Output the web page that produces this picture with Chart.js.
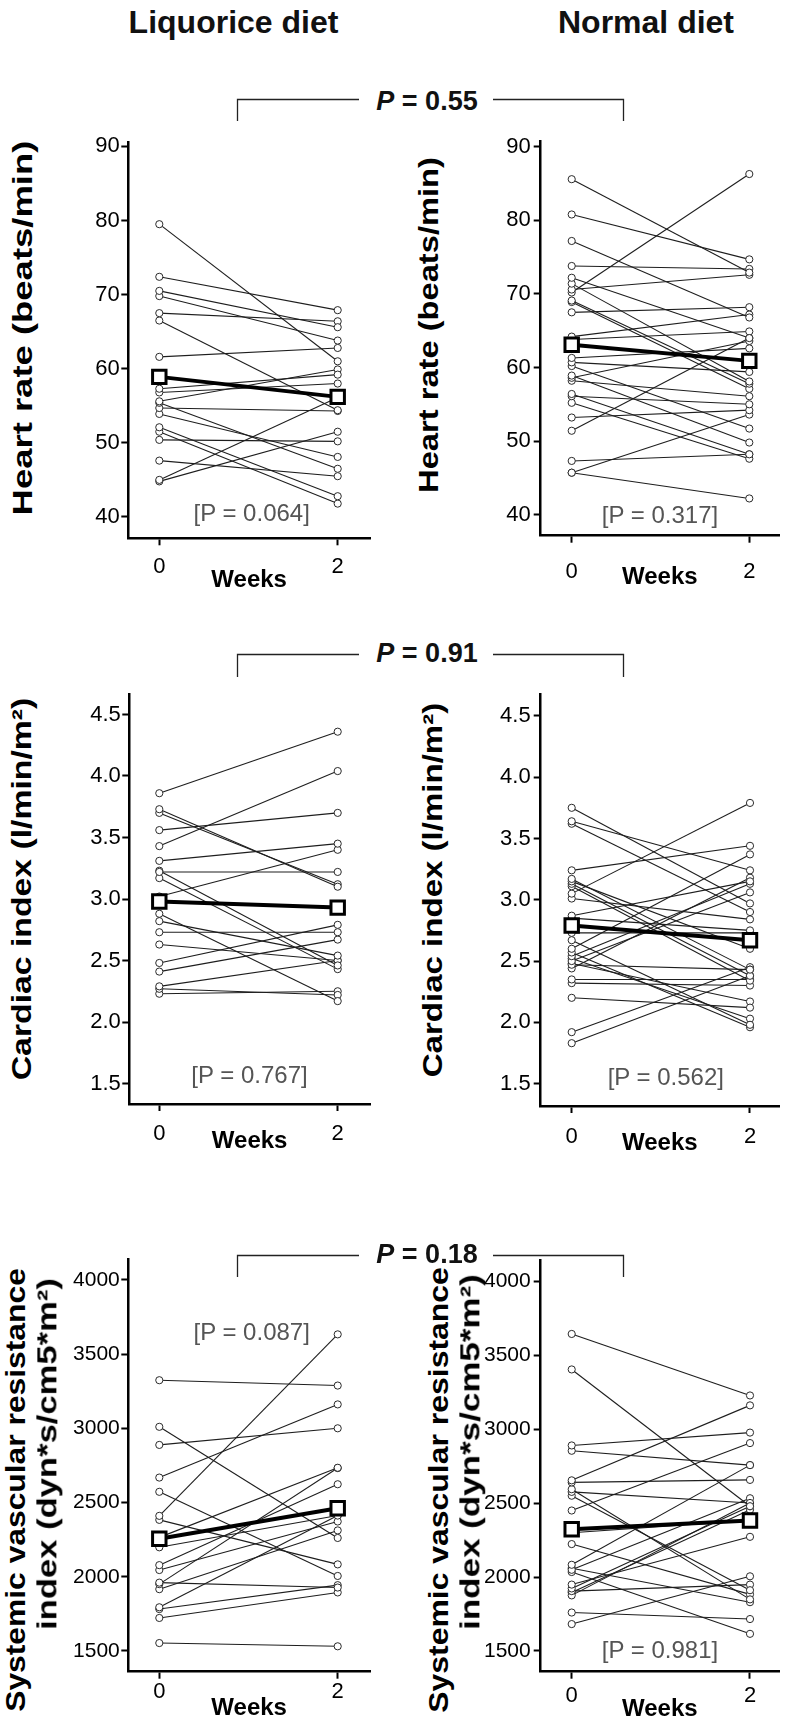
<!DOCTYPE html>
<html><head><meta charset="utf-8">
<script src="https://cdn.jsdelivr.net/npm/chart.js@4.4.1/dist/chart.umd.min.js"></script>
<style>
html,body{margin:0;padding:0;background:#fff;}
#fig{position:relative;width:790px;height:1732px;overflow:hidden;font-family:"Liberation Sans",Arial,sans-serif;}
#fig canvas{position:absolute;}
.t{position:absolute;white-space:nowrap;line-height:1;}
.head{font-weight:bold;font-size:32px;color:#111;transform:translateX(-50%);}
.ytitle{font-weight:bold;font-size:28px;color:#000;}
.pv{font-size:24px;color:#555;transform:translate(-50%,-50%);}
.pb{font-weight:bold;font-size:27px;color:#111;transform:translate(-50%,-50%);}
svg{position:absolute;left:0;top:0;}
</style></head>
<body><div id="fig"></div>
<script>
// ---------- DATA ----------
const weekValues = [0, 2];
const weekLabels = ['0', '2'];

const hrTicks = [40, 50, 60, 70, 80, 90];
const ciTicks = [1.5, 2.0, 2.5, 3.0, 3.5, 4.0, 4.5];
const svriTicks = [1500, 2000, 2500, 3000, 3500, 4000];

// Heart rate, liquorice diet
const hrLiqWeek0 = [79.5, 72.4, 70.5, 69.8, 67.5, 66.5, 61.6, 57.3, 56.8, 55.6, 55.4, 54.7, 53.9, 52.1, 51.5, 50.4, 47.6, 45.0, 44.8];
const hrLiqWeek2 = [61.0, 67.9, 65.6, 63.8, 66.4, 54.4, 62.8, 59.2, 58.0, 59.9, 46.5, 54.3, 48.1, 42.8, 41.8, 50.2, 45.5, 56.1, 51.5];
const hrLiqMean = [58.9, 56.2];

// Heart rate, normal diet
const hrNormWeek0 = [85.6, 80.8, 77.2, 73.8, 72.2, 71.4, 70.6, 70.2, 69.1, 68.9, 67.5, 64.2, 63.8, 61.3, 60.7, 60.2, 58.9, 58.6, 58.2, 56.4, 56.1, 55.2, 53.2, 51.4, 47.3, 45.7, 45.7];
const hrNormWeek2 = [72.9, 74.7, 66.8, 73.4, 64.0, 58.1, 72.6, 86.3, 57.8, 57.1, 68.2, 67.2, 64.9, 62.6, 59.4, 51.7, 49.8, 63.6, 56.1, 48.2, 55.0, 47.6, 54.2, 64.0, 48.2, 53.6, 42.2];
const hrNormMean = [63.1, 60.9];

// Cardiac index, liquorice diet
const ciLiqWeek0 = [3.86, 3.73, 3.70, 3.56, 3.43, 3.31, 3.22, 3.23, 3.17, 3.02, 2.88, 2.82, 2.73, 2.63, 2.48, 2.41, 2.29, 2.27, 2.23];
const ciLiqWeek2 = [4.36, 3.10, 3.12, 3.70, 4.04, 3.45, 3.22, 2.46, 2.43, 3.40, 2.17, 2.54, 2.73, 2.50, 2.79, 2.67, 2.50, 2.22, 2.25];
const ciLiqMean = [2.98, 2.93];

// Cardiac index, normal diet
const ciNormWeek0 = [3.75, 3.64, 3.62, 3.24, 3.17, 3.15, 3.13, 3.11, 3.05, 3.01, 2.87, 2.85, 2.73, 2.67, 2.60, 2.57, 2.54, 2.50, 2.47, 2.44, 2.35, 2.32, 2.20, 1.92, 1.83, 2.48, 2.52];
const ciNormWeek2 = [2.97, 3.24, 2.90, 3.44, 2.43, 2.60, 2.38, 2.34, 3.79, 2.84, 3.15, 2.75, 2.73, 1.98, 3.37, 1.96, 3.13, 3.06, 2.43, 3.18, 2.35, 2.30, 2.12, 2.45, 2.38, 2.17, 2.03];
const ciNormMean = [2.79, 2.67];

// Systemic vascular resistance index, liquorice diet
const svriLiqWeek0 = [3324, 3010, 2888, 2668, 2572, 2410, 2383, 2265, 2198, 2078, 2045, 1960, 1950, 1916, 1794, 1782, 1722, 1553];
const svriLiqWeek2 = [3288, 2261, 3000, 3161, 2005, 3633, 2083, 2734, 2412, 2623, 2372, 1927, 2732, 2312, 2412, 1943, 1894, 1531];
const svriLiqMean = [2256, 2461];

// Systemic vascular resistance index, normal diet
const svriNormWeek0 = [3644, 3404, 2890, 2854, 2654, 2640, 2594, 2576, 2550, 2450, 2300, 2223, 2083, 2049, 2034, 1949, 1923, 1905, 1876, 1760, 1682, 1895, 2060];
const svriNormWeek2 = [3228, 2479, 2977, 2757, 3161, 2657, 1849, 2501, 1911, 2906, 2383, 1883, 2757, 2533, 1616, 2272, 2479, 1949, 2501, 1716, 2005, 2455, 1830];
const svriNormMean = [2323, 2383];

// ---------- LAYOUT ----------
const fig = document.getElementById('fig');
const FONT = '"Liberation Sans", Arial, sans-serif';

function addText(cls, text, left, top, html) {
  const d = document.createElement('div');
  d.className = 't ' + cls;
  if (html) d.innerHTML = text; else d.textContent = text;
  d.style.left = left + 'px';
  d.style.top = top + 'px';
  fig.appendChild(d);
  return d;
}
function addYTitle(text, cx, cy, len) {
  const d = addText('ytitle', text, 0, 0);
  const w = d.offsetWidth, h = d.offsetHeight;
  d.style.left = (cx - w / 2) + 'px';
  d.style.top = (cy - h / 2) + 'px';
  d.style.transform = 'rotate(-90deg) scaleX(' + (len / w) + ')';
}

function makePanel(g, week0, week2, mean, ticks, tickFmt, tickFont) {
  const cl = Math.floor(g.axisLeft - 74), ct = Math.floor(g.top - 10);
  const cr = Math.min(790, Math.ceil(g.axisRight + 8)), cb = Math.ceil(g.weeksY + 20);
  const W = cr - cl, H = cb - ct;
  const cv = document.createElement('canvas');
  cv.width = W; cv.height = H;
  cv.style.left = cl + 'px'; cv.style.top = ct + 'px';
  cv.style.width = W + 'px'; cv.style.height = H + 'px';
  fig.appendChild(cv);

  const xUnit = (g.x2px - g.x0px) / 2;
  const xLo = (g.axisLeft - g.x0px) / xUnit, xHi = (g.axisRight - g.x0px) / xUnit;
  const yUnit = (g.yApx - g.yBpx) / (g.yB - g.yA);
  const yLo = g.yA - (g.bottom - g.yApx) / yUnit, yHi = g.yB + (g.yBpx - g.top) / yUnit;

  const yW = g.axisLeft - cl, padTop = g.top - ct, padRight = cr - g.axisRight, xH = cb - g.bottom;
  const lblPad = Math.max(0, g.labelY - g.bottom - 7 - 22 * 1.2 / 2);
  const weeksPad = Math.max(0, cb - g.weeksY - 24 * 1.2 / 2);

  const datasets = [{
    data: weekValues.map((x, i) => ({x, y: mean[i]})),
    borderColor: '#000', borderWidth: 4,
    pointStyle: 'rect', pointRadius: 9.5, pointHoverRadius: 9.5,
    pointBorderWidth: 3, pointBackgroundColor: '#fff', pointBorderColor: '#000',
    order: 0
  }];
  week0.forEach((v, i) => {
    datasets.push({
      data: [{x: weekValues[0], y: v}, {x: weekValues[1], y: week2[i]}],
      borderColor: '#1e1e1e', borderWidth: 1.1,
      pointRadius: 3.6, pointHoverRadius: 3.6, pointBorderWidth: 1,
      pointBackgroundColor: '#fff', pointBorderColor: '#2a2a2a',
      order: 1
    });
  });

  new Chart(cv, {
    type: 'line',
    data: {datasets},
    options: {
      responsive: false, animation: false, devicePixelRatio: 1,
      events: [],
      layout: {autoPadding: false, padding: {left: 0, top: padTop, right: padRight, bottom: 0}},
      plugins: {legend: {display: false}, tooltip: {enabled: false}},
      scales: {
        x: {
          type: 'linear', min: xLo, max: xHi,
          afterFit: s => { s.height = xH; },
          afterBuildTicks: s => { s.ticks = weekValues.map(v => ({value: v})); },
          ticks: {
            callback: v => weekLabels[weekValues.indexOf(v)],
            font: {family: FONT, size: 22}, color: '#000', padding: lblPad, maxRotation: 0, autoSkip: false
          },
          grid: {display: true, drawOnChartArea: false, drawTicks: true, tickLength: 7, tickWidth: 2, color: '#000'},
          border: {display: true, width: 2.5, color: '#000'},
          title: {display: true, text: 'Weeks', color: '#000',
                  font: {family: FONT, size: 24, weight: 'bold'}, padding: {top: 0, bottom: weeksPad}}
        },
        y: {
          type: 'linear', min: yLo, max: yHi,
          afterFit: s => { s.width = yW; },
          afterBuildTicks: s => { s.ticks = ticks.map(v => ({value: v})); },
          ticks: {
            callback: v => tickFmt(v),
            font: {family: FONT, size: tickFont}, color: '#000', padding: g.yPad, autoSkip: false
          },
          grid: {display: true, drawOnChartArea: false, drawTicks: true, tickLength: 7, tickWidth: 2, color: '#000'},
          border: {display: true, width: 2.5, color: '#000'}
        }
      }
    }
  });
}

const intFmt = v => String(v);
const decFmt = v => v.toFixed(1);

makePanel({axisLeft:128.3, axisRight:370, top:138, bottom:538.3, x0px:159.3, x2px:337.7,
           yA:40, yApx:516.7, yB:90, yBpx:141.7, labelY:566.7, weeksY:580, yPad:1.5},
          hrLiqWeek0, hrLiqWeek2, hrLiqMean, hrTicks, intFmt, 22);
makePanel({axisLeft:540.7, axisRight:779, top:135, bottom:535.7, x0px:571.7, x2px:749.3,
           yA:40, yApx:514.3, yB:90, yBpx:140.7, labelY:571.7, weeksY:577, yPad:3},
          hrNormWeek0, hrNormWeek2, hrNormMean, hrTicks, intFmt, 22);
makePanel({axisLeft:129.3, axisRight:370, top:690, bottom:1104, x0px:159.3, x2px:337.7,
           yA:1.5, yApx:1083.3, yB:4.5, yBpx:710, labelY:1134, weeksY:1141, yPad:1.5},
          ciLiqWeek0, ciLiqWeek2, ciLiqMean, ciTicks, decFmt, 22);
makePanel({axisLeft:540.7, axisRight:779, top:688, bottom:1106, x0px:571.7, x2px:750,
           yA:1.5, yApx:1083.3, yB:4.5, yBpx:710, labelY:1137, weeksY:1143, yPad:3},
          ciNormWeek0, ciNormWeek2, ciNormMean, ciTicks, decFmt, 22);
makePanel({axisLeft:128.3, axisRight:370, top:1255, bottom:1671.7, x0px:159.3, x2px:337.7,
           yA:1500, yApx:1650.7, yB:4000, yBpx:1276, labelY:1692, weeksY:1708, yPad:1.5},
          svriLiqWeek0, svriLiqWeek2, svriLiqMean, svriTicks, intFmt, 21);
makePanel({axisLeft:540.7, axisRight:779, top:1255, bottom:1671.7, x0px:571.7, x2px:750,
           yA:1500, yApx:1650.7, yB:4000, yBpx:1276, labelY:1695.7, weeksY:1709, yPad:3},
          svriNormWeek0, svriNormWeek2, svriNormMean, svriTicks, intFmt, 21);

// ---------- TEXT ----------
addText('head', 'Liquorice diet', 233.5, 6);
addText('head', 'Normal diet', 646, 6);

addYTitle('Heart rate (beats/min)', 23, 327.5, 375);
addYTitle('Heart rate (beats/min)', 429, 325, 336);
addYTitle('Cardiac index (l/min/m²)', 21.5, 889, 382);
addYTitle('Cardiac index (l/min/m²)', 432, 890, 374);
addYTitle('Systemic vascular resistance', 16, 1490, 444);
addYTitle('index (dyn*s/cm5*m²)', 47.5, 1454, 352);
addYTitle('Systemic vascular resistance', 439, 1490, 446);
addYTitle('index (dyn*s/cm5*m²)', 470, 1452, 356);

addText('pv', '[P = 0.064]', 251.7, 513);
addText('pv', '[P = 0.317]', 660, 515);
addText('pv', '[P = 0.767]', 249.5, 1075);
addText('pv', '[P = 0.562]', 665.8, 1076.7);
addText('pv', '[P = 0.087]', 251.7, 1331.7);
addText('pv', '[P = 0.981]', 660, 1650);

addText('pb', '<i>P</i> = 0.55', 427, 101, true);
addText('pb', '<i>P</i> = 0.91', 427, 653, true);
addText('pb', '<i>P</i> = 0.18', 427, 1254, true);

// comparison brackets
const brackets = [[99.5, 121], [654.5, 677], [1255.5, 1277]];
let svg = '<svg width="790" height="1732" xmlns="http://www.w3.org/2000/svg"><g stroke="#222" stroke-width="1.3" fill="none">';
brackets.forEach(([y, y2]) => {
  svg += `<path d="M237.5 ${y2} V${y} H359"/><path d="M493 ${y} H623.5 V${y2}"/>`;
});
svg += '</g></svg>';
fig.insertAdjacentHTML('beforeend', svg);
</script>
</body></html>
